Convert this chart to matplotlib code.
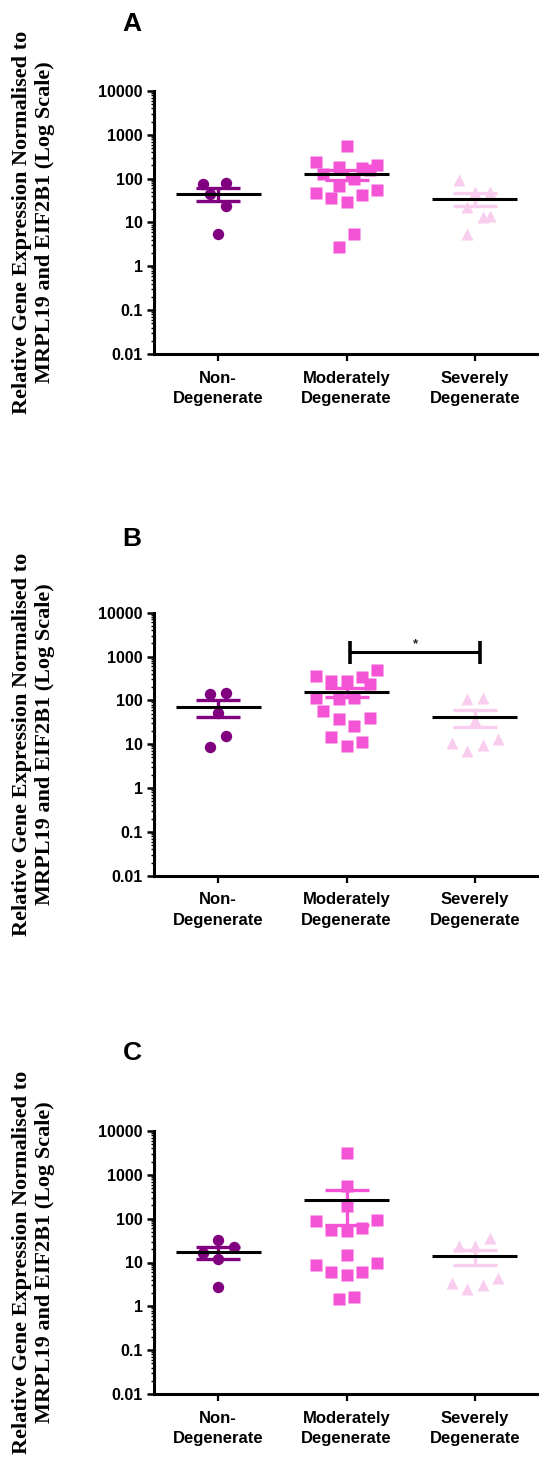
import numpy as np
import matplotlib
matplotlib.use('Agg')
import matplotlib.pyplot as plt
from matplotlib.ticker import FixedLocator, LogLocator, NullFormatter

groups = ['Non-\nDegenerate', 'Moderately\nDegenerate', 'Severely\nDegenerate']
y_ticks = [0.01, 0.1, 1, 10, 100, 1000, 10000]
y_tick_labels = ['0.01', '0.1', '1', '10', '100', '1000', '10000']
panel_letters = ['A', 'B', 'C']
y_title = 'Relative Gene Expression Normalised to\nMRPL19 and EIF2B1 (Log Scale)'

# panel A  (*_jit = horizontal scatter of the dots)
a_non = [76, 78, 45, 23.4, 5.6]
a_non_jit = [-0.12, 0.06, -0.06, 0.06, 0.0]
a_mod = [556, 239, 184, 174, 201, 125, 160, 99.5, 67, 47.5, 55.6, 36.5, 30, 43.4, 5.5, 2.8]
a_mod_jit = [0, -0.24, -0.06, 0.12, 0.24, -0.18, 0.18, 0.06, -0.06, -0.24, 0.24, -0.12, 0, 0.12, 0.06, -0.06]
a_sev = [91, 49, 50.6, 22, 13.1, 14.3, 5.6]
a_sev_jit = [-0.12, 0, 0.12, -0.06, 0.06, 0.12, -0.06]

# panel B
b_non = [137, 145, 51, 15.1, 8.8]
b_non_jit = [-0.06, 0.06, 0, 0.06, -0.06]
b_mod = [356, 505, 275, 275, 333, 235, 111, 106, 111, 58, 38, 40.6, 26.4, 14.6, 9, 11]
b_mod_jit = [-0.24, 0.24, -0.12, 0, 0.12, 0.18, -0.24, -0.06, 0.06, -0.18, -0.06, 0.18, 0.06, -0.12, 0, 0.12]
b_sev = [106, 111, 36, 10.7, 6.9, 9.8, 13.2]
b_sev_jit = [-0.06, 0.06, 0, -0.18, -0.06, 0.06, 0.18]
b_sig = (1, 2, '*')

# panel C
c_non = [33.3, 22.3, 16.6, 12.1, 2.8]
c_non_jit = [0, 0.12, -0.12, 0, 0]
c_mod = [3105, 543, 190, 88.5, 95, 56, 53, 61, 14.9, 8.9, 9.8, 6.1, 5.1, 6.2, 1.5, 1.6]
c_mod_jit = [0, 0, 0, -0.24, 0.24, -0.12, 0, 0.12, 0, -0.24, 0.24, -0.12, 0, 0.12, -0.06, 0.06]
c_sev = [24.3, 23.4, 36.4, 3.4, 2.5, 3.05, 4.4]
c_sev_jit = [-0.12, 0, 0.12, -0.18, -0.06, 0.06, 0.18]

panels = [
    [(a_non, a_non_jit), (a_mod, a_mod_jit), (a_sev, a_sev_jit)],
    [(b_non, b_non_jit), (b_mod, b_mod_jit), (b_sev, b_sev_jit)],
    [(c_non, c_non_jit), (c_mod, c_mod_jit), (c_sev, c_sev_jit)],
]
sigs = [None, b_sig, None]

colors = ['#800080', '#f553d6', '#f9cdee']
markers = ['o', 's', '^']
msizes = [8.2, 8.2, 8.6]

W, H = 539, 1483
fig = plt.figure(figsize=(W / 100, H / 100), dpi=100)

sans = 'Liberation Sans'
serif = 'Liberation Serif'
ax_tops = [91, 612.7, 1131]
letter_y = [24, 538.5, 1053]
ax_h = 263

for p, groups_data in enumerate(panels):
    top = ax_tops[p]
    ax = fig.add_axes([154 / W, 1 - (top + ax_h) / H, 385 / W, ax_h / H])
    ax.set_yscale('log')

    for i, (vals, jit) in enumerate(groups_data):
        vals = np.array(vals, dtype=float)
        xs = i + np.array(jit)
        ax.plot(xs, vals, ls='none', marker=markers[i], ms=msizes[i],
                color=colors[i], mec='none', zorder=3, clip_on=False)
        m = vals.mean()
        se = vals.std(ddof=1) / np.sqrt(len(vals))
        ax.errorbar(i, m, yerr=se, fmt='none', ecolor=colors[i], elinewidth=2.4,
                    capsize=15.5, capthick=2.4, zorder=4)
        ax.hlines(m, i - 0.33, i + 0.33, color='black', lw=2.2, zorder=5)

    sig = sigs[p]
    if sig is not None:
        x1, x2, txt = sig
        x1 += 0.03
        x2 += 0.04
        ax.plot([x1, x2], [1250, 1250], color='black', lw=2.2, solid_capstyle='butt', zorder=6)
        ax.vlines([x1, x2], 680, 2300, color='black', lw=2.6, zorder=6)
        ax.text((x1 + x2) / 2, 1420, txt, ha='center', va='bottom',
                fontsize=9.5, family=sans, fontweight='bold', color='#222222')

    ax.set_ylim(0.01, 10000)
    ax.set_xlim(-0.5, 2.5)
    ax.yaxis.set_major_locator(FixedLocator(y_ticks))
    ax.set_yticklabels(y_tick_labels)
    ax.yaxis.set_minor_locator(LogLocator(base=10, subs=np.arange(2, 10), numticks=20))
    ax.yaxis.set_minor_formatter(NullFormatter())
    ax.set_xticks(range(len(groups)))
    ax.set_xticklabels(groups)

    for s in ['top', 'right']:
        ax.spines[s].set_visible(False)
    for s in ['left', 'bottom']:
        ax.spines[s].set_linewidth(2.2)

    ax.tick_params(axis='y', which='major', length=5, width=1.8, pad=3)
    ax.tick_params(axis='y', which='minor', length=2.5, width=1)
    ax.tick_params(axis='x', length=5, width=1.6, pad=7)
    for lab in ax.get_yticklabels():
        lab.set_fontfamily(sans)
        lab.set_fontweight('bold')
        lab.set_fontsize(11.5)
    for lab in ax.get_xticklabels():
        lab.set_fontfamily(sans)
        lab.set_fontweight('bold')
        lab.set_fontsize(12)
        lab.set_linespacing(1.45)

    ax.set_ylabel(y_title, fontsize=16, family=serif, fontweight='bold',
                  linespacing=1.2, multialignment='center')
    ax.yaxis.label.set_va('center')
    ax.yaxis.set_label_coords((34 - 154) / 385, 0.5)

    fig.text(132 / W, 1 - letter_y[p] / H, panel_letters[p], ha='center', va='center',
             fontsize=19, family=sans, fontweight='bold')

fig.savefig('out.png', dpi=100, facecolor='white')
